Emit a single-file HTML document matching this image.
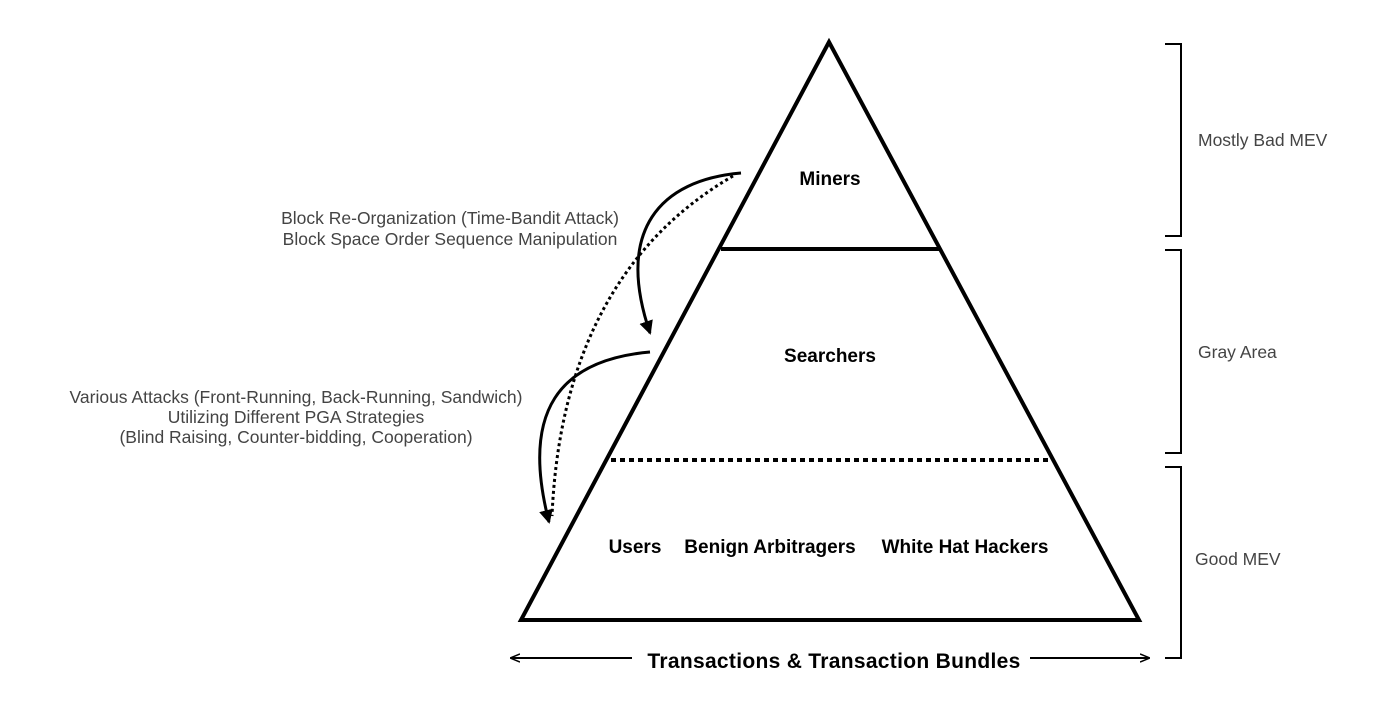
<!DOCTYPE html>
<html><head><meta charset="utf-8"><style>
html,body{margin:0;padding:0;background:#fff;}
svg{display:block;}
</style></head><body>
<svg width="1400" height="724" viewBox="0 0 1400 724" xmlns="http://www.w3.org/2000/svg">
<defs>
<marker id="ah" markerWidth="10" markerHeight="10" refX="8" refY="5" orient="auto" markerUnits="userSpaceOnUse">
<path d="M0,1 L10,5 L0,9" fill="none" stroke="#000" stroke-width="1.5"/>
</marker>
<marker id="ah2" markerWidth="14" markerHeight="14" refX="12" refY="7" orient="auto" markerUnits="userSpaceOnUse">
<path d="M0,0 L14,7 L0,14 Z" fill="#000"/>
</marker>
</defs>
<rect width="1400" height="724" fill="#fff"/>
<polygon points="829,42 521,620 1139,620" fill="none" stroke="#000" stroke-width="4" stroke-linejoin="miter"/>
<line x1="721" y1="249" x2="939" y2="249" stroke="#000" stroke-width="4"/>
<line x1="611" y1="460" x2="1052" y2="460" stroke="#000" stroke-width="4" stroke-dasharray="5,4"/>
<g font-family="Liberation Sans, sans-serif" font-weight="bold" font-size="19" fill="#000" text-anchor="middle">
<text x="830" y="185">Miners</text>
<text x="830" y="362">Searchers</text>
<text x="635" y="553">Users</text>
<text x="770" y="553">Benign Arbitragers</text>
<text x="965" y="553">White Hat Hackers</text>
<text x="834" y="668" font-size="21" letter-spacing="0.3">Transactions &amp; Transaction Bundles</text>
</g>
<line x1="632" y1="658" x2="512" y2="658" stroke="#000" stroke-width="2" marker-end="url(#ah)"/>
<line x1="1030" y1="658" x2="1148" y2="658" stroke="#000" stroke-width="2" marker-end="url(#ah)"/>
<g fill="none" stroke="#000" stroke-width="2">
<path d="M1165,44 H1181 V236 H1165"/>
<path d="M1165,250 H1181 V453 H1165"/>
<path d="M1165,467 H1181 V658 H1165"/>
</g>
<g font-family="Liberation Sans, sans-serif" font-size="17.5" fill="#444">
<text x="1198" y="146">Mostly Bad MEV</text>
<text x="1198" y="358">Gray Area</text>
<text x="1195" y="565">Good MEV</text>
<g text-anchor="middle">
<text x="450" y="224">Block Re-Organization (Time-Bandit Attack)</text>
<text x="450" y="245">Block Space Order Sequence Manipulation</text>
<text x="296" y="403">Various Attacks (Front-Running, Back-Running, Sandwich)</text>
<text x="296" y="423">Utilizing Different PGA Strategies</text>
<text x="296" y="443">(Blind Raising, Counter-bidding, Cooperation)</text>
</g>
</g>
<g fill="none" stroke="#000" stroke-width="3">
<path d="M741,173 C660,180 615,230 650,333" marker-end="url(#ah2)"/>
<path d="M650,352 C560,360 520,410 549,522" marker-end="url(#ah2)"/>
<path d="M733,176 C640,230 560,330 552,516" stroke-dasharray="3,3"/>
</g>
</svg>
</body></html>
